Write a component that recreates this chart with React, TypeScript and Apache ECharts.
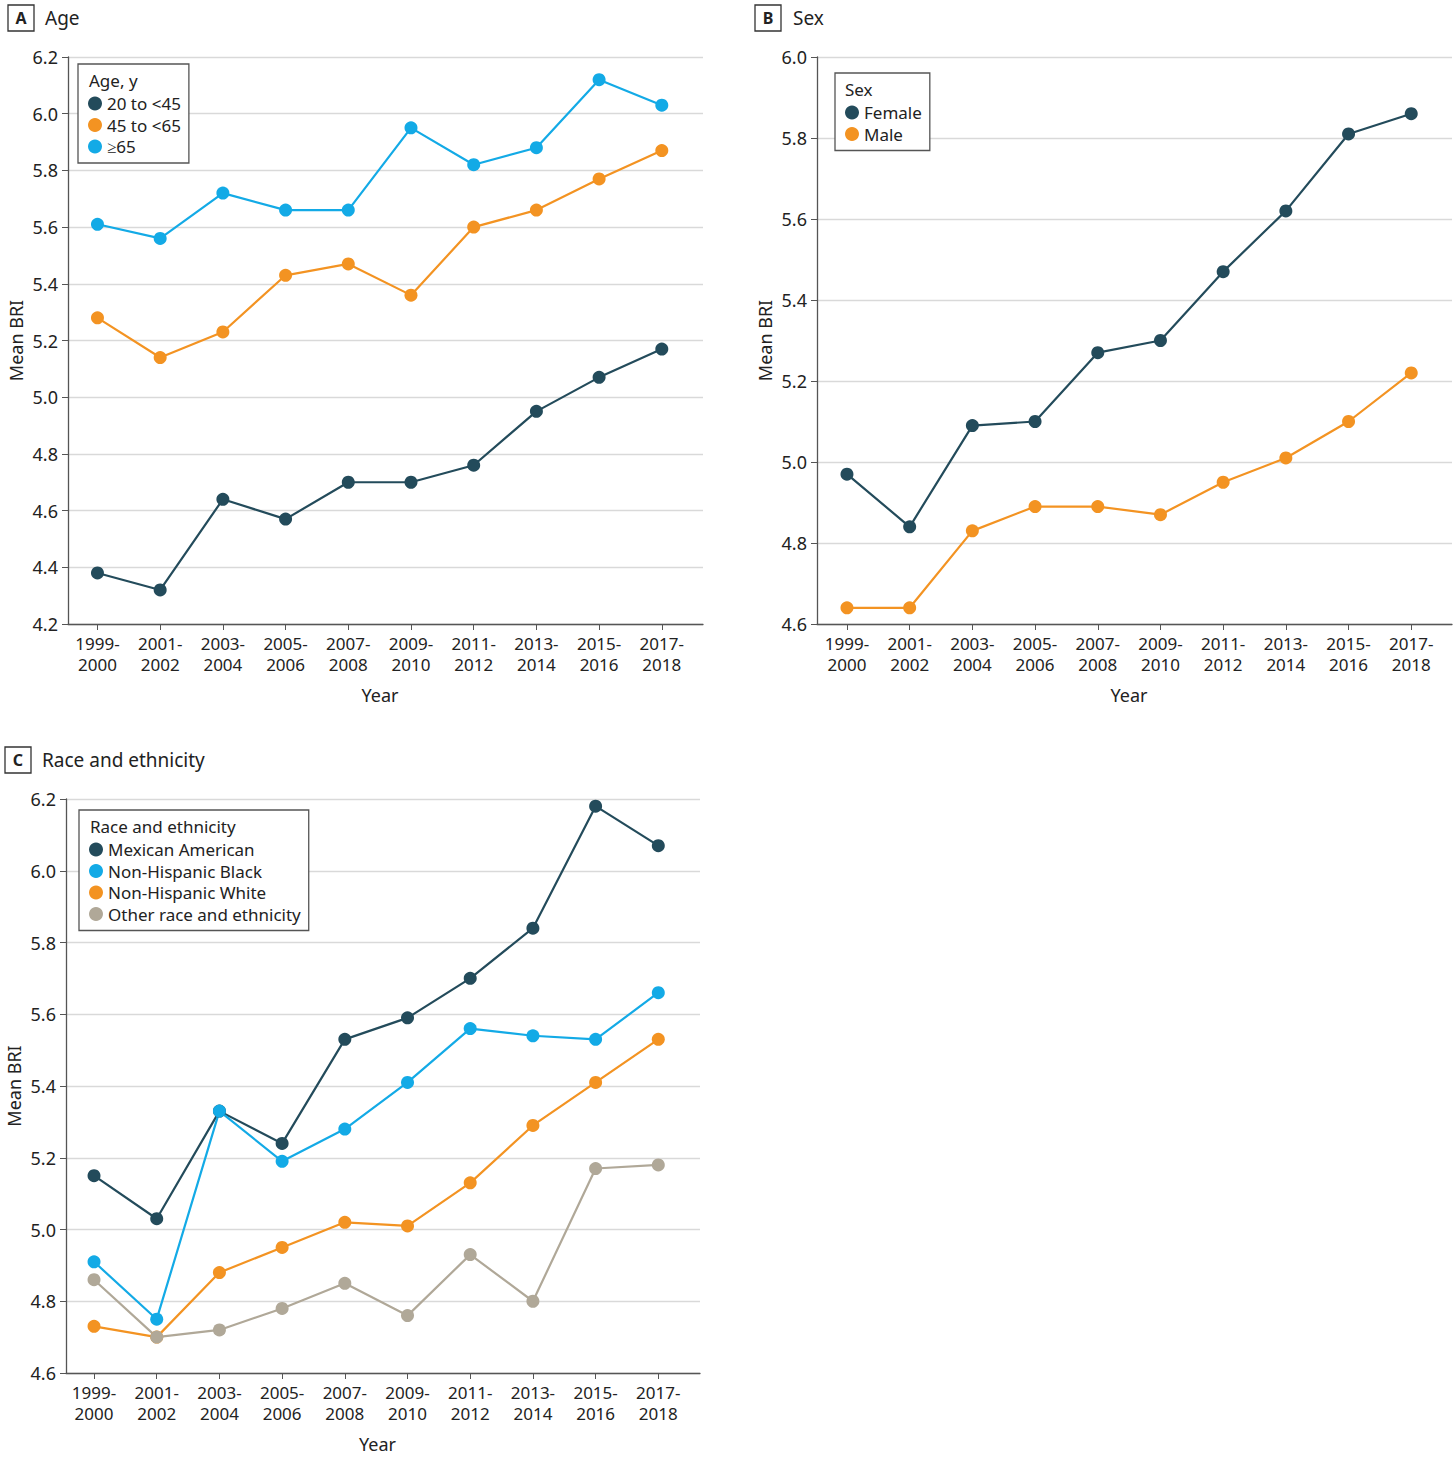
import React, { useEffect, useRef } from "react";
import * as echarts from "echarts";

const years = ["1999-\n2000", "2001-\n2002", "2003-\n2004", "2005-\n2006", "2007-\n2008", "2009-\n2010", "2011-\n2012", "2013-\n2014", "2015-\n2016", "2017-\n2018"];

const ageNames = ["20 to <45", "45 to <65", "≥65"];
const age20to45 = [4.38, 4.32, 4.64, 4.57, 4.70, 4.70, 4.76, 4.95, 5.07, 5.17];
const age45to65 = [5.28, 5.14, 5.23, 5.43, 5.47, 5.36, 5.60, 5.66, 5.77, 5.87];
const age65plus = [5.61, 5.56, 5.72, 5.66, 5.66, 5.95, 5.82, 5.88, 6.12, 6.03];

const sexNames = ["Female", "Male"];
const female = [4.97, 4.84, 5.09, 5.10, 5.27, 5.30, 5.47, 5.62, 5.81, 5.86];
const male = [4.64, 4.64, 4.83, 4.89, 4.89, 4.87, 4.95, 5.01, 5.10, 5.22];

const raceNames = ["Mexican American", "Non-Hispanic Black", "Non-Hispanic White", "Other race and ethnicity"];
const mexicanAmerican = [5.15, 5.03, 5.33, 5.24, 5.53, 5.59, 5.70, 5.84, 6.18, 6.07];
const nonHispanicBlack = [4.91, 4.75, 5.33, 5.19, 5.28, 5.41, 5.56, 5.54, 5.53, 5.66];
const nonHispanicWhite = [4.73, 4.70, 4.88, 4.95, 5.02, 5.01, 5.13, 5.29, 5.41, 5.53];
const otherRace = [4.86, 4.70, 4.72, 4.78, 4.85, 4.76, 4.93, 4.80, 5.17, 5.18];

const yTicksA = [4.2, 6.2];
const yTicksB = [4.6, 6.0];
const yTicksC = [4.6, 6.2];

const DARK = "#234b5b";
const ORANGE = "#f39322";
const CYAN = "#13aae6";
const GRAY = "#b0a898";
const FONT = "Noto Sans";
const AXIS = "#555555";

const idx = years.map((_, i) => i);

function xAxis(gridIndex: number, min: number, max: number) {
  return {
    type: "value",
    gridIndex,
    min,
    max,
    name: "Year",
    nameLocation: "middle",
    nameGap: 62,
    nameTextStyle: { fontFamily: FONT, fontSize: 18, color: "#222", padding: [0, 11, 0, 0] },
    axisLine: { show: true, onZero: false, lineStyle: { color: AXIS, width: 1.3 } },
    axisTick: { show: true, customValues: idx, length: 6, lineStyle: { color: AXIS } },
    axisLabel: {
      customValues: idx,
      formatter: (v: number) => years[Math.round(v)] ?? "",
      fontFamily: FONT,
      fontSize: 17,
      color: "#222",
      lineHeight: 21,
      margin: 9,
    },
    splitLine: { show: false },
  };
}

function yAxis(gridIndex: number, range: number[]) {
  return {
    type: "value",
    gridIndex,
    min: range[0],
    max: range[1],
    interval: 0.2,
    name: "Mean BRI",
    nameLocation: "middle",
    nameGap: 43,
    nameTextStyle: { fontFamily: FONT, fontSize: 18, color: "#222" },
    axisLine: { show: true, onZero: false, lineStyle: { color: AXIS, width: 1.3 } },
    axisTick: { show: true, length: 6, lineStyle: { color: AXIS } },
    axisLabel: {
      formatter: (v: number) => v.toFixed(1),
      fontFamily: FONT,
      fontSize: 18,
      color: "#222",
      margin: 10,
    },
    splitLine: { show: true, lineStyle: { color: "#d9d9d9", width: 1.3 } },
  };
}

function line(name: string, data: number[], color: string, axisIndex: number) {
  return {
    type: "line",
    name,
    xAxisIndex: axisIndex,
    yAxisIndex: axisIndex,
    data: data.map((v, i) => [i, v]),
    symbol: "circle",
    symbolSize: 13,
    itemStyle: { color },
    lineStyle: { color, width: 2.2 },
  };
}

function legend(data: string[], left: number, top: number) {
  return {
    data,
    orient: "vertical",
    left,
    top,
    icon: "circle",
    itemWidth: 14,
    itemHeight: 14,
    itemGap: 4.5,
    padding: [31, 8, 8, 10],
    borderColor: AXIS,
    borderWidth: 1.3,
    backgroundColor: "#fff",
    selectedMode: false,
    textStyle: { fontFamily: FONT, fontSize: 17, color: "#222", padding: [0, 0, 0, 0] },
  };
}

function panelTitle(letter: string, text: string, x: number, y: number, textX: number) {
  return [
    { type: "rect", shape: { x, y, width: 26, height: 26 }, style: { fill: "#fff", stroke: "#333", lineWidth: 1.3 } },
    { type: "text", x: x + 13, y: y + 13, style: { text: letter, fontFamily: FONT, fontSize: 16, fontWeight: "bold", fill: "#222", align: "center", verticalAlign: "middle" } },
    { type: "text", x: textX, y: y + 13, style: { text, fontFamily: FONT, fontSize: 19, fill: "#222", align: "left", verticalAlign: "middle" } },
  ];
}

function legendTitle(text: string, x: number, y: number) {
  return { type: "text", x, y, z: 100, style: { text, fontFamily: FONT, fontSize: 17, fill: "#222", align: "left", verticalAlign: "middle" } };
}

export default function App() {
  const ref = useRef<HTMLDivElement>(null);
  useEffect(() => {
    document.body.style.margin = "0";
    if (!ref.current) return;
    const chart = echarts.init(ref.current, undefined, { renderer: "svg" });
    chart.setOption({
      animation: false,
      backgroundColor: "#fff",
      grid: [
        { left: 68, top: 57, width: 635, height: 567 },
        { left: 817, top: 57, width: 635, height: 567 },
        { left: 66, top: 799, width: 634, height: 574 },
      ],
      xAxis: [xAxis(0, -0.47, 9.657), xAxis(1, -0.478, 9.65), xAxis(2, -0.447, 9.665)],
      yAxis: [yAxis(0, yTicksA), yAxis(1, yTicksB), yAxis(2, yTicksC)],
      legend: [
        legend(ageNames, 78, 64),
        legend(sexNames, 835, 73),
        legend(raceNames, 79, 810),
      ],
      graphic: [
        ...panelTitle("A", "Age", 8, 5, 45),
        ...panelTitle("B", "Sex", 755, 5, 793),
        ...panelTitle("C", "Race and ethnicity", 5, 747, 42),
        legendTitle("Age, y", 89, 80),
        legendTitle("Sex", 845, 89),
        legendTitle("Race and ethnicity", 90, 826),
      ],
      series: [
        line(ageNames[0], age20to45, DARK, 0),
        line(ageNames[1], age45to65, ORANGE, 0),
        line(ageNames[2], age65plus, CYAN, 0),
        line(sexNames[0], female, DARK, 1),
        line(sexNames[1], male, ORANGE, 1),
        line(raceNames[0], mexicanAmerican, DARK, 2),
        line(raceNames[1], nonHispanicBlack, CYAN, 2),
        line(raceNames[2], nonHispanicWhite, ORANGE, 2),
        line(raceNames[3], otherRace, GRAY, 2),
      ],
    });
    return () => chart.dispose();
  }, []);
  return <div ref={ref} style={{ width: 1456, height: 1457 }} />;
}
